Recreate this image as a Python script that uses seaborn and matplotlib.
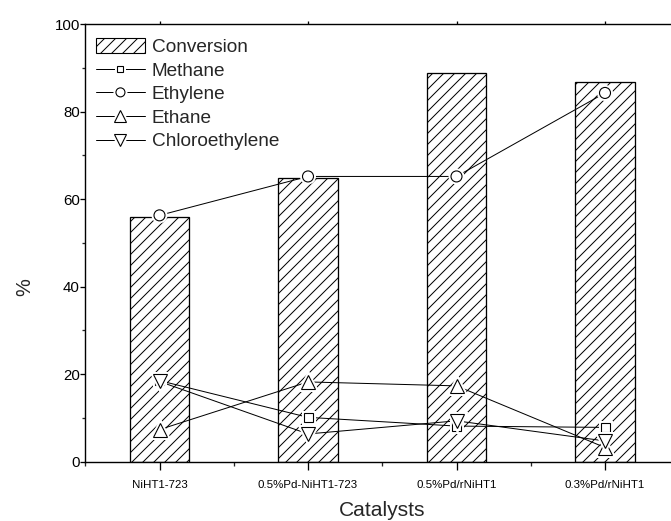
import numpy as np
import matplotlib
matplotlib.use("Agg")
import matplotlib.pyplot as plt
import matplotlib.patheffects as pe
from matplotlib.lines import Line2D
from matplotlib.patches import Patch
from matplotlib.legend_handler import HandlerTuple
import seaborn as sns

# Catalyst performance data (%)
catalysts = ["NiHT1-723", "0.5%Pd-NiHT1-723", "0.5%Pd/rNiHT1", "0.3%Pd/rNiHT1"]
conversion = [55.9, 64.9, 88.9, 86.8]
methane = [18.5, 10.1, 8.1, 7.8]
ethylene = [56.3, 65.2, 65.2, 84.3]
ethane = [7.3, 18.2, 17.3, 3.2]
chloroethylene = [18.3, 6.3, 9.3, 4.7]

W, H, DPI = 671, 521, 132
HATCH = "////"


def px(v):
    """Convert a size in pixels to points at the figure resolution."""
    return v * 72.0 / DPI


sns.set_style("ticks")
plt.rcParams["font.family"] = ["Liberation Sans", "DejaVu Sans"]
plt.rcParams["hatch.linewidth"] = px(1.0)
plt.rcParams["hatch.color"] = "black"

fig = plt.figure(figsize=(W / DPI, H / DPI), dpi=DPI)
ax = fig.add_axes([85.25 / W, 59.5 / H, 594.0 / W, 437.2 / H])

sns.barplot(x=catalysts, y=conversion, color="white", edgecolor="black",
            linewidth=px(1.3), hatch=HATCH, width=0.4, ax=ax, zorder=1)

pos = np.arange(len(catalysts))
series = [
    ("Methane", methane, "s", 9, 6),
    ("Ethylene", ethylene, "o", 11, 9),
    ("Ethane", ethane, "^", 14, 12),
    ("Chloroethylene", chloroethylene, "v", 14, 12),
]

halo = [pe.Stroke(linewidth=px(5), foreground="white"), pe.Normal()]
handles = [Patch(facecolor="white", edgecolor="black", hatch=HATCH,
                 linewidth=px(1.1))]
labels = ["Conversion"]
for name, vals, mk, ms, lms in series:
    sns.lineplot(x=pos, y=vals, color="black", linewidth=px(1.0), ax=ax,
                 legend=False, zorder=2)
for name, vals, mk, ms, lms in series:
    ax.plot(pos, vals, linestyle="none", marker=mk, markersize=px(ms),
            markerfacecolor="white", markeredgecolor="black",
            markeredgewidth=px(1.1), zorder=3, path_effects=halo)
    ln = Line2D([], [], color="black", linewidth=px(1.0))
    mkr = Line2D([], [], linestyle="none", marker=mk, markersize=px(lms),
                 markerfacecolor="white", markeredgecolor="black",
                 markeredgewidth=px(1.1), path_effects=halo)
    handles.append((ln, mkr))
    labels.append(name)

ax.set_xlim(-0.5, 3.5)
ax.set_ylim(0, 100)
ax.set_xticks(pos)
ax.set_xticklabels(catalysts)
ax.set_xticks(np.arange(-0.5, 3.6, 1.0), minor=True)
ax.set_yticks(np.arange(0, 101, 20))
ax.set_yticks(np.arange(10, 100, 20), minor=True)

for side in ["left", "bottom", "top"]:
    ax.spines[side].set_linewidth(px(1.4))
    ax.spines[side].set_color("black")
ax.spines["right"].set_visible(False)

ax.tick_params(axis="x", which="major", direction="out", length=px(8),
               width=px(1.3), labelsize=px(11.5), pad=px(10), colors="black",
               top=True, labeltop=False)
ax.tick_params(axis="x", which="minor", direction="out", length=px(4),
               width=px(1.3))
ax.tick_params(axis="y", which="major", direction="out", length=px(5),
               width=px(1.3), labelsize=px(15), pad=px(0.5), colors="black")
ax.tick_params(axis="y", which="minor", direction="out", length=px(3),
               width=px(1.3))
# short ticks along the top frame
for t in ax.xaxis.get_major_ticks():
    t.tick2line.set_markersize(px(3))

ax.set_xlabel("Catalysts", fontsize=px(21), labelpad=px(12))
ax.set_ylabel("%", fontsize=px(20), labelpad=px(20), y=0.4)

ax.legend(handles, labels, handler_map={tuple: HandlerTuple(ndivide=1, pad=0)},
          loc="upper left", bbox_to_anchor=(0.018, 0.968), frameon=False,
          fontsize=px(19), handlelength=2.58, handleheight=0.8,
          handletextpad=0.35, labelspacing=0.3, borderpad=0, borderaxespad=0)

fig.savefig("out.png", dpi=DPI)
